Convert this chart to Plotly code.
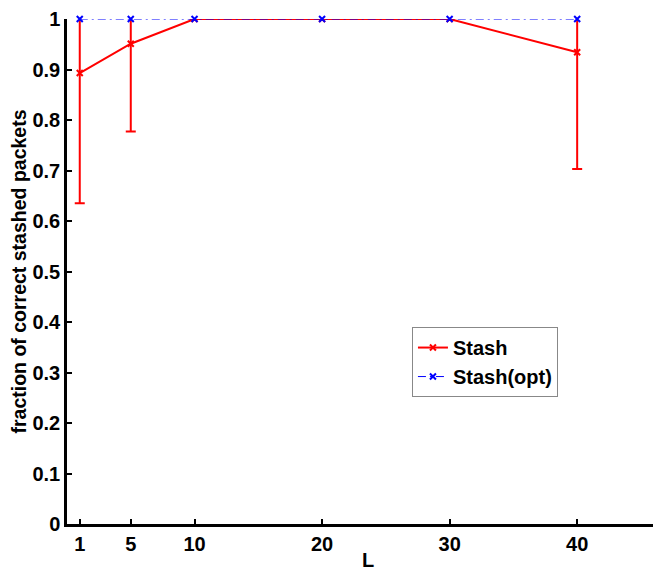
import plotly.graph_objects as go

L = [1, 5, 10, 20, 30, 40]
stash = [0.893, 0.951, 1.0, 1.0, 1.0, 0.934]
stash_err = [0.258, 0.174, 0.0, 0.0, 0.0, 0.231]
stash_opt = [1.0, 1.0, 1.0, 1.0, 1.0, 1.0]
xticks = [1, 5, 10, 20, 30, 40]
yticks = [0, 0.1, 0.2, 0.3, 0.4, 0.5, 0.6, 0.7, 0.8, 0.9, 1]
yticklabels = ["0", "0.1", "0.2", "0.3", "0.4", "0.5", "0.6", "0.7", "0.8", "0.9", "1"]

FONT = "Liberation Sans"

fig = go.Figure()
fig.add_trace(go.Scatter(
    x=L, y=stash, name="<b>Stash</b>", mode="lines+markers",
    line=dict(color="#ff0000", width=2),
    marker=dict(symbol="x-thin", size=6, line=dict(color="#ff0000", width=2), color="#ff0000"),
    error_y=dict(type="data", array=stash_err, symmetric=True, color="#ff0000",
                 thickness=2, width=5),
    cliponaxis=True,
))
fig.add_trace(go.Scatter(
    x=L, y=stash_opt, name="<b>Stash(opt)</b>", mode="lines+markers",
    line=dict(color="#0000ff", width=1, dash="8px,4px,2px,4px"),
    marker=dict(symbol="x-thin", size=6, line=dict(color="#0000ff", width=2), color="#0000ff"),
    cliponaxis=False,
))

fig.update_layout(
    width=661, height=573,
    margin=dict(l=59, r=0, t=7, b=57),
    plot_bgcolor="white", paper_bgcolor="white",
    font=dict(family=FONT, size=20, color="black"),
    showlegend=True,
    legend=dict(
        x=0.573, y=0.39, xanchor="left", yanchor="top",
        bgcolor="white", bordercolor="#888888", borderwidth=1,
        font=dict(family=FONT, size=20, color="black"),
        tracegroupgap=0, itemwidth=30,
    ),
    xaxis=dict(
        range=[0, 47.2], tickmode="array", tickvals=xticks,
        ticktext=[f"<b>{v}</b>" for v in xticks],
        ticks="inside", ticklen=5, tickwidth=2, tickcolor="black",
        showline=True, linecolor="black", linewidth=2.5,
        showgrid=False, zeroline=False, ticklabeloverflow="allow",
        title=dict(text="<b>L</b>", font=dict(family=FONT, size=20), standoff=0),
        tickfont=dict(family=FONT, size=20),
    ),
    yaxis=dict(
        range=[0, 1], tickmode="array", tickvals=yticks,
        ticktext=[f"<b>{t}</b>" for t in yticklabels],
        ticks="inside", ticklen=5, tickwidth=2, tickcolor="black",
        showline=True, linecolor="black", linewidth=2.5,
        showgrid=False, zeroline=False, ticklabeloverflow="allow",
        title=dict(text="<b>fraction of correct stashed packets</b>", font=dict(family=FONT, size=19.5), standoff=4),
        tickfont=dict(family=FONT, size=20),
    ),
)

fig.write_html("out.html")
